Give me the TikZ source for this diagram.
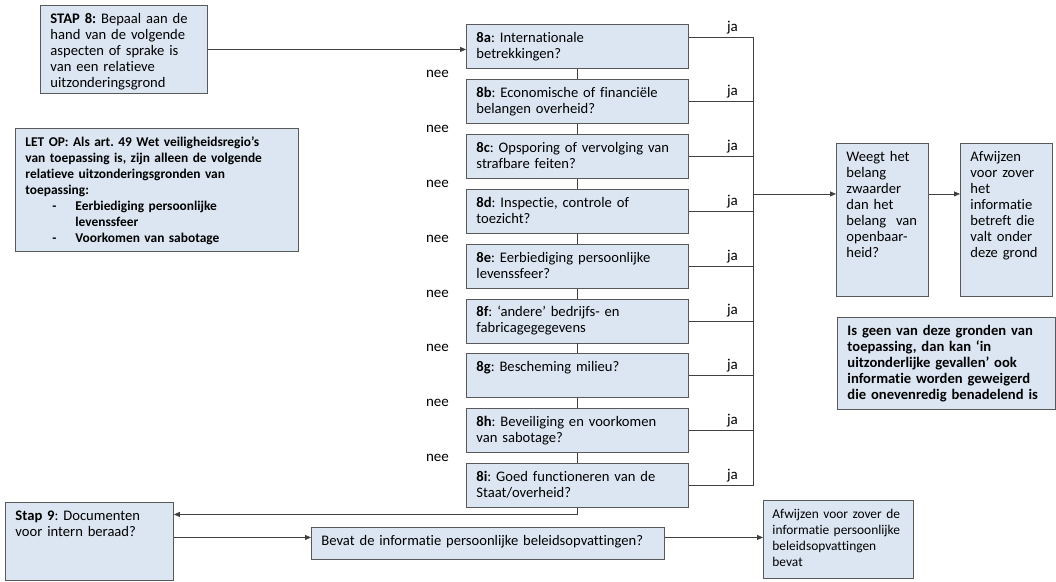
\documentclass[tikz,border=0pt]{standalone}
\usepackage{fontspec}
\setmainfont{Carlito}[Ligatures=NoCommon]
\usetikzlibrary{positioning,arrows.meta}
\definecolor{blokblauw}{RGB}{220,230,242}
\tikzset{
  blok/.style={draw=black!65, line width=0.9pt, fill=blokblauw, align=left,
    inner xsep=10pt, inner ysep=8pt, text height=10pt,
    font=\fontsize{14.6}{16}\selectfont\frenchspacing},
  vraag/.style={blok, text width=202pt, text depth=18pt},
  lijn/.style={draw=black!75, line width=0.8pt},
  pijl/.style={lijn, -{Triangle[length=6pt,width=5pt]}},
  keuze/.style={font=\fontsize{15}{16}\selectfont, inner sep=1pt}
}
\begin{document}
\begin{tikzpicture}[x=1pt, y=-1pt, node distance=10pt]
\useasboundingbox (0,0) rectangle (1056,581);
% stap 8 en opmerking
\node[blok, anchor=north west, text width=147pt, text depth=62pt] (stap8) at (40,5)
  {\textbf{STAP 8:} Bepaal aan de\\hand van de volgende\\aspecten of sprake is\\van een relatieve\\uitzonderingsgrond};
\node[blok, anchor=north west, text width=263pt, text depth=97pt,
  font=\fontsize{13.4}{16}\selectfont\frenchspacing\bfseries] (letop) at (15,128)
  {LET OP: Als art. 49 Wet veiligheidsregio’s\\van toepassing is, zijn alleen de volgende\\relatieve uitzonderingsgronden van\\toepassing:\\
  \hspace*{27pt}\makebox[23pt][l]{-}Eerbiediging persoonlijke\\
  \hspace*{50pt}levenssfeer\\
  \hspace*{27pt}\makebox[23pt][l]{-}Voorkomen van sabotage};
% gronden 8a t/m 8i
\node[vraag, anchor=north west] (s8a) at (466,24) {\textbf{8a}: Internationale\\betrekkingen?};
\node[vraag, below=of s8a] (s8b) {\textbf{8b}: Economische of financiële\\belangen overheid?};
\node[vraag, below=of s8b] (s8c) {\textbf{8c}: Opsporing of vervolging van\\strafbare feiten?};
\node[vraag, below=of s8c] (s8d) {\textbf{8d}: Inspectie, controle of\\toezicht?};
\node[vraag, below=of s8d] (s8e) {\textbf{8e}: Eerbiediging persoonlijke\\levenssfeer?};
\node[vraag, below=of s8e] (s8f) {\textbf{8f}: ‘andere’ bedrijfs- en\\fabricagegegevens};
\node[vraag, below=of s8f] (s8g) {\textbf{8g}: Bescheming milieu?};
\node[vraag, below=of s8g] (s8h) {\textbf{8h}: Beveiliging en voorkomen\\van sabotage?};
\node[vraag, below=of s8h] (s8i) {\textbf{8i}: Goed functioneren van de\\Staat/overheid?};
% afweging
\node[blok, anchor=north west, text width=72pt, text depth=127pt] (weeg) at (836,143)
  {Weegt het\\belang\\zwaarder\\dan het\\belang~ van\\openbaar-\\heid?};
\node[blok, anchor=north west, text width=72pt, text depth=127pt] (afw1) at (960,143)
  {Afwijzen\\voor zover\\het\\informatie\\betreft die\\valt onder\\deze grond};
\node[blok, anchor=north west, text width=198pt, text depth=66pt] (geen) at (837,317)
  {\bfseries Is geen van deze gronden van\\toepassing, dan kan ‘in\\uitzonderlijke gevallen’ ook\\informatie worden geweigerd\\die onevenredig benadelend is};
% stap 9
\node[blok, anchor=north west, text width=148pt, text depth=52pt] (stap9) at (5,502)
  {\textbf{Stap 9}: Documenten\\voor intern beraad?};
\node[blok, anchor=north west, text width=333pt, text depth=6pt] (bevat) at (311,527)
  {Bevat de informatie persoonlijke beleidsopvattingen?};
\node[blok, anchor=north west, inner xsep=9pt, text width=132pt, text depth=52pt,
  font=\fontsize{13.4}{16}\selectfont] (afw2) at (763,500)
  {Afwijzen voor zover de\\informatie persoonlijke\\beleidsopvattingen\\bevat};
% verbindingen
\draw[pijl] (stap8.east) -- (stap8.east -| s8a.west);
\foreach \a/\b in {a/b,b/c,c/d,d/e,e/f,f/g,g/h,h/i} {
  \draw[lijn] (s8\a) -- (s8\b);
  \path (s8\a.south) -- (s8\b.north) node[midway, xshift=-140pt, keuze] {nee};
}
\coordinate (rail) at (753,0);
\coordinate (ja8a) at ([yshift=9pt]s8a.east);
\draw[lijn] (ja8a) -- (ja8a -| rail) node[pos=0.68, above=2pt, keuze] {ja};
\foreach \k in {b,c,d,e,f,g,h,i}
  \draw[lijn] (s8\k.east) -- (s8\k.east -| rail) node[pos=0.68, above=2pt, keuze] {ja};
\draw[lijn] (ja8a -| rail) -- (s8i.east -| rail);
\coordinate (wg) at ([yshift=26pt]weeg.west);
\draw[pijl] (wg -| rail) -- (wg);
\draw[pijl] (weeg.east |- wg) -- (afw1.west |- wg);
\coordinate (st9) at ([yshift=27pt]stap9.east);
\draw[pijl] (s8i.south) |- (st9);
\coordinate (bv) at ([yshift=6pt]bevat.west);
\draw[pijl] (stap9.east |- bv) -- (bv);
\draw[pijl] (bevat.east |- bv) -- (afw2.west |- bv);
\end{tikzpicture}
\end{document}
